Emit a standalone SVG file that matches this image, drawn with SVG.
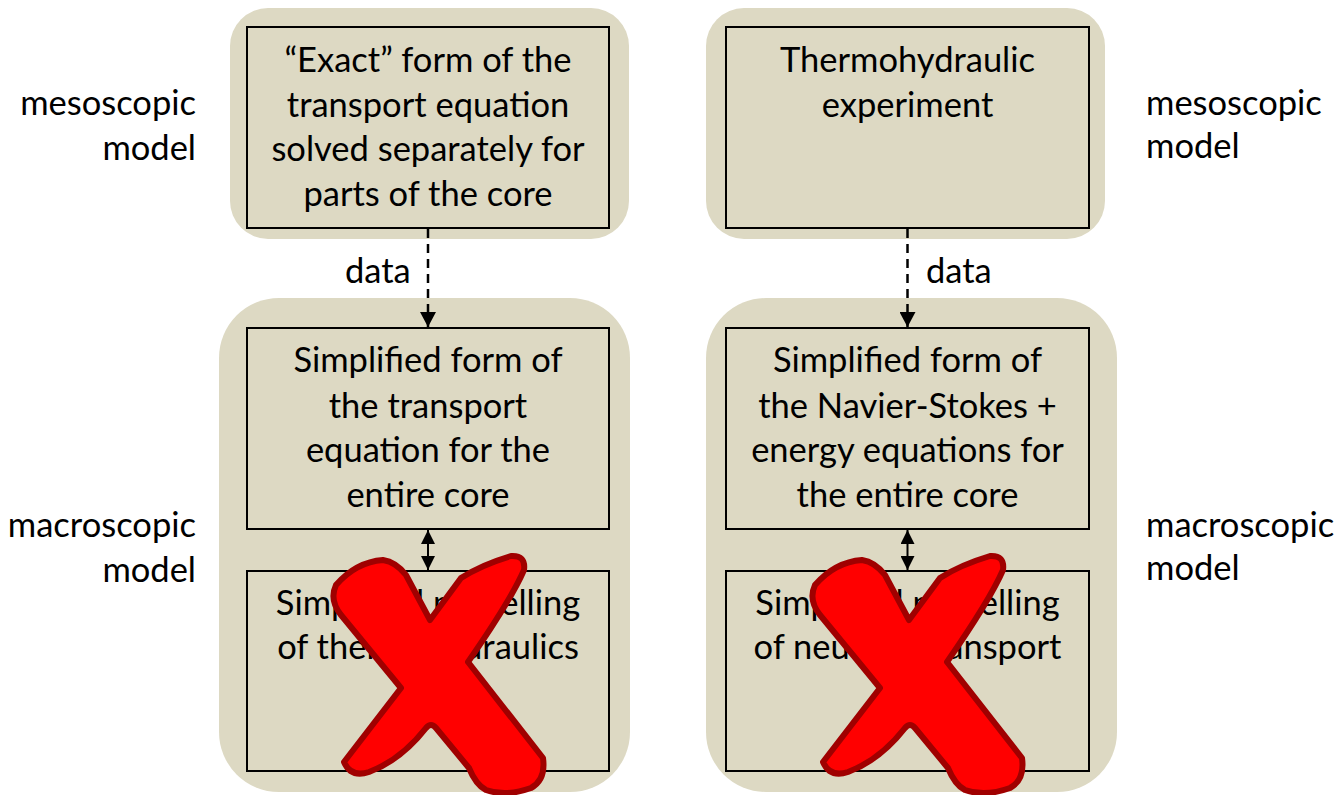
<svg xmlns="http://www.w3.org/2000/svg" width="1339" height="795" viewBox="0 0 1339 795">
<defs>
<style>
.panel{fill:#DDD9C3;stroke:none}
.box{fill:#DDD9C3;stroke:#000;stroke-width:2}
.t{font-family:Lato,"Open Sans","Liberation Sans",sans-serif;font-size:34.5px;fill:#000}
.c{text-anchor:middle}
.r{text-anchor:end}
.dash{stroke:#000;stroke-width:2.5;stroke-dasharray:9,6;fill:none}
.dbl{stroke:#000;stroke-width:2;fill:none}
.x{fill:#FF0000;stroke:#A00000;stroke-width:6;stroke-linejoin:round}
</style>
<marker id="ah" markerUnits="userSpaceOnUse" markerWidth="16" markerHeight="16" refX="15" refY="8" orient="auto"><path d="M0,0 L15,8 L0,16 Z" fill="#000"/></marker>
<marker id="ah2" markerUnits="userSpaceOnUse" markerWidth="14" markerHeight="14" refX="14" refY="7" orient="auto-start-reverse"><path d="M0,0 L14,7 L0,14 Z" fill="#000"/></marker>
<path id="xshape" d="M815,585 Q835,562 862,560 Q875,562 885,575 L909,620 L940,578 Q960,565 990,556 Q1005,555 1003,570 Q990,600 947,662 L1022,758 Q1025,780 1010,788 Q985,797 965,790 Q955,785 948,768 L915,728 Q910,722 905,728 Q880,760 848,772 Q830,778 823,762 L880,688 L820,615 Q808,600 815,585 Z"/>
</defs>
<rect width="1339" height="795" fill="#fff"/>
<g id="panels">
<rect class="panel" x="230" y="8" width="399" height="231" rx="38"/>
<rect class="panel" x="706" y="8" width="399" height="231" rx="38"/>
<rect class="panel" x="219" y="298" width="411" height="494" rx="60"/>
<rect class="panel" x="706" y="298" width="411" height="494" rx="60"/>
</g>
<g id="labels">
<text class="t r" x="196" y="115">mesoscopic</text>
<text class="t r" x="196" y="160">model</text>
<text class="t r" x="196" y="537">macroscopic</text>
<text class="t r" x="196" y="582">model</text>
<text class="t" x="1146" y="115">mesoscopic</text>
<text class="t" x="1146" y="158">model</text>
<text class="t" x="1146" y="537">macroscopic</text>
<text class="t" x="1146" y="580">model</text>
</g>
<g id="node-exact">
<rect class="box" x="247" y="27" width="362" height="201"/>
<text class="t c" x="428" y="72">“Exact” form of the</text>
<text class="t c" x="428" y="117">transport equation</text>
<text class="t c" x="428" y="161">solved separately for</text>
<text class="t c" x="428" y="206">parts of the core</text>
</g>
<g id="node-experiment">
<rect class="box" x="726" y="27" width="363" height="201"/>
<text class="t c" x="907.5" y="72">Thermohydraulic</text>
<text class="t c" x="907.5" y="117">experiment</text>
</g>
<g id="node-simplified-transport">
<rect class="box" x="247" y="328" width="362" height="201"/>
<text class="t c" x="428" y="372">Simplified form of</text>
<text class="t c" x="428" y="418">the transport</text>
<text class="t c" x="428" y="462">equation for the</text>
<text class="t c" x="428" y="507">entire core</text>
</g>
<g id="node-simplified-ns">
<rect class="box" x="726" y="328" width="363" height="201"/>
<text class="t c" x="907.5" y="372">Simplified form of</text>
<text class="t c" x="907.5" y="418">the Navier-Stokes +</text>
<text class="t c" x="907.5" y="462">energy equations for</text>
<text class="t c" x="907.5" y="507">the entire core</text>
</g>
<g id="node-thermo">
<rect class="box" x="247" y="571" width="362" height="200"/>
<text class="t c" x="428" y="615">Simplified modelling</text>
<text class="t c" x="428" y="659">of thermohydraulics</text>
</g>
<g id="node-neutron">
<rect class="box" x="726" y="571" width="363" height="200"/>
<text class="t c" x="907.5" y="615">Simplified modelling</text>
<text class="t c" x="907.5" y="659">of neutron transport</text>
</g>
<g id="connectors">
<line class="dash" x1="428" y1="229" x2="428" y2="327" marker-end="url(#ah)"/>
<line class="dash" x1="907.5" y1="229" x2="907.5" y2="327" marker-end="url(#ah)"/>
<line class="dbl" x1="428" y1="530" x2="428" y2="570" marker-start="url(#ah2)" marker-end="url(#ah2)"/>
<line class="dbl" x1="907.5" y1="530" x2="907.5" y2="570" marker-start="url(#ah2)" marker-end="url(#ah2)"/>
<text class="t" x="345" y="283">data</text>
<text class="t" x="926" y="283">data</text>
</g>
<g id="crosses">
<use href="#xshape" class="x" transform="translate(-479,0)"/>
<use href="#xshape" class="x"/>
</g>
</svg>
